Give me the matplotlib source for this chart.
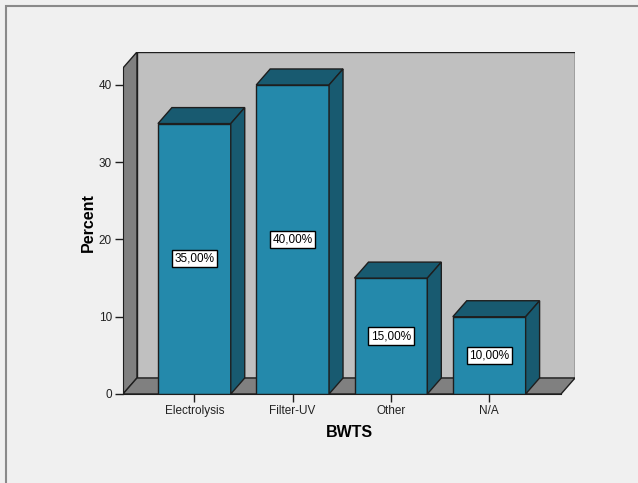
import matplotlib
matplotlib.use("Agg")
import matplotlib.pyplot as plt
from matplotlib.patches import Polygon, Rectangle

# BWTS distribution (percent of respondents)
categories = ["Electrolysis", "Filter-UV", "Other", "N/A"]
percents = [35.0, 40.0, 15.0, 10.0]
yticks = [0, 10, 20, 30, 40]

FRONT = "#2489ab"
SHADE = "#185a70"
WALL = "#c0c0c0"
SIDE = "#808080"
BG = "#f0f0f0"
EDGE = "#1e1e1e"

plt.rcParams["font.family"] = ["Liberation Sans", "DejaVu Sans"]

fig = plt.figure(figsize=(6.38, 4.83), dpi=100, facecolor=BG)
ax = fig.add_axes([0.1928, 0.1843, 0.7085, 0.7081])
ax.set_facecolor("none")

# front plane of the box and the 3d depth offset, in data units
x0, x1 = -0.726, 3.731
ytop = 42.2
dx, dy = 0.142, 2.07
w = 0.741

ax.set_xlim(x0, x1 + dx)
ax.set_ylim(0, ytop + dy)


def poly(pts, fc, z):
    ax.add_patch(Polygon(pts, closed=True, fc=fc, ec=EDGE, lw=1,
                         zorder=z, joinstyle="miter"))


# back wall, side wall and floor
poly([(x0 + dx, dy), (x1 + dx, dy), (x1 + dx, ytop + dy), (x0 + dx, ytop + dy)], WALL, 1)
poly([(x0, 0), (x0 + dx, dy), (x0 + dx, ytop + dy), (x0, ytop)], SIDE, 1)
poly([(x0, 0), (x1, 0), (x1 + dx, dy), (x0 + dx, dy)], SIDE, 1)

for i, v in enumerate(percents):
    l, r = i - w / 2, i + w / 2
    poly([(l, 0), (r, 0), (r, v), (l, v)], FRONT, 3)
    poly([(l, v), (r, v), (r + dx, v + dy), (l + dx, v + dy)], SHADE, 3)
    poly([(r, 0), (r + dx, dy), (r + dx, v + dy), (r, v)], SHADE, 3)
    ax.text(i, v / 2, f"{v:.2f}".replace(".", ",") + "%", ha="center", va="center",
            fontsize=8.5, zorder=5,
            bbox=dict(boxstyle="square,pad=0.22", fc="white", ec="black", lw=1))

for s in ["top", "right"]:
    ax.spines[s].set_visible(False)
ax.spines["left"].set_bounds(0, ytop)
ax.spines["bottom"].set_bounds(x0, x1)
for s in ["left", "bottom"]:
    ax.spines[s].set_color(EDGE)
    ax.spines[s].set_zorder(4)

ax.set_xticks(range(len(categories)))
ax.set_xticklabels(categories)
ax.set_yticks(yticks)
ax.tick_params(direction="out", length=6, width=1, color=EDGE,
               labelsize=8.5, labelcolor="#222222", pad=2)

ax.set_xlabel("BWTS", fontsize=11.5, fontweight="bold", labelpad=6)
ax.set_ylabel("Percent", fontsize=11.5, fontweight="bold", labelpad=2)

# outer frame and clipped title
fig.patches.append(Rectangle((6 / 638, -0.1), 1.0, 1.1 - 6 / 483, transform=fig.transFigure,
                             fc="none", ec="#8a8a8a", lw=1.5))
fig.text(0.508, 1 - 0.5 / 483, "BWTS", ha="center", va="baseline", fontsize=12,
         fontweight="bold", color="#666666")

fig.savefig("out.png", dpi=100, facecolor=BG)
